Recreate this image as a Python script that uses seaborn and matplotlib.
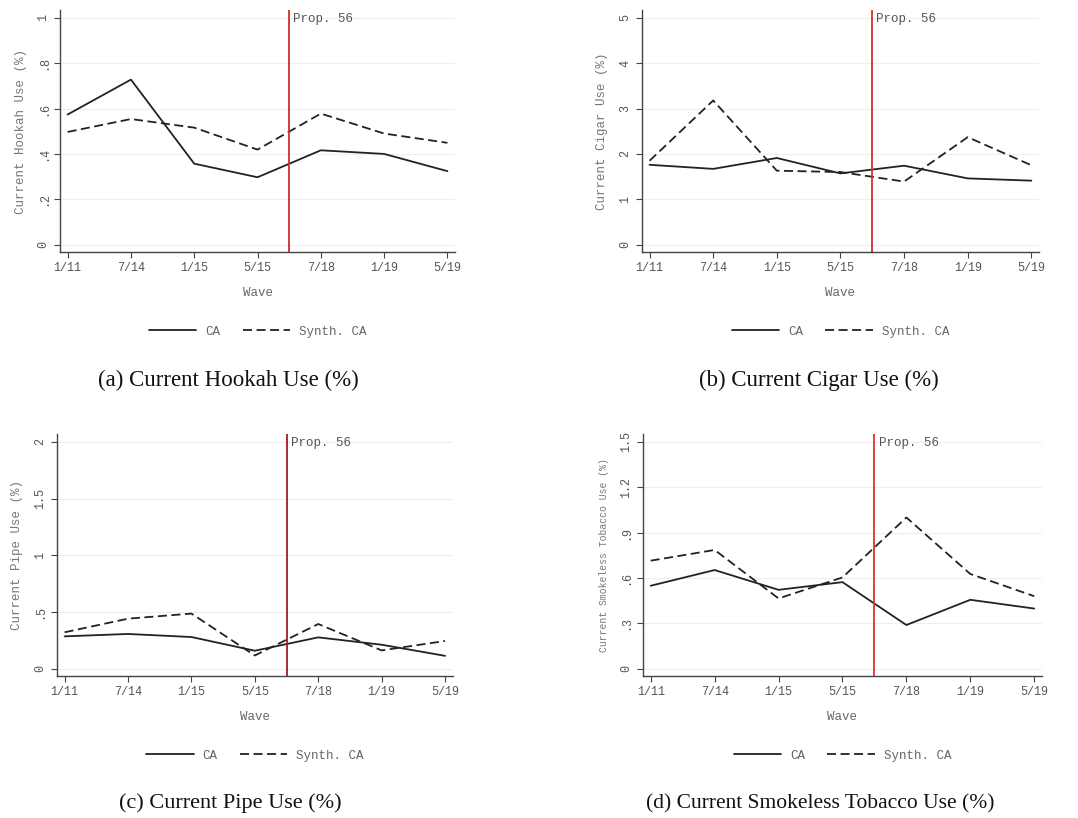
import numpy as np
import pandas as pd
import seaborn as sns
from matplotlib import pyplot as plt

# wave labels (equally spaced categories)
waves = ["1/11", "7/14", "1/15", "5/15", "7/18", "1/19", "5/19"]

# values, one pair of series per panel
hookah_ca = [0.574, 0.728, 0.357, 0.297, 0.416, 0.400, 0.324]
hookah_synth = [0.497, 0.554, 0.516, 0.419, 0.578, 0.490, 0.449]

cigar_ca = [1.76, 1.67, 1.91, 1.57, 1.74, 1.46, 1.41]
cigar_synth = [1.85, 3.18, 1.63, 1.60, 1.39, 2.37, 1.75]

pipe_ca = [0.284, 0.305, 0.278, 0.157, 0.275, 0.210, 0.112]
pipe_synth = [0.320, 0.440, 0.485, 0.115, 0.393, 0.160, 0.243]

smokeless_ca = [0.548, 0.652, 0.521, 0.572, 0.288, 0.455, 0.397]
smokeless_synth = [0.714, 0.785, 0.464, 0.603, 1.000, 0.626, 0.479]

hookah_ticks = [0, 0.2, 0.4, 0.6, 0.8, 1]
hookah_ticklabels = ["0", ".2", ".4", ".6", ".8", "1"]
cigar_ticks = [0, 1, 2, 3, 4, 5]
cigar_ticklabels = ["0", "1", "2", "3", "4", "5"]
pipe_ticks = [0, 0.5, 1, 1.5, 2]
pipe_ticklabels = ["0", ".5", "1", "1.5", "2"]
smokeless_ticks = [0, 0.3, 0.6, 0.9, 1.2, 1.5]
smokeless_ticklabels = ["0", ".3", ".6", ".9", "1.2", "1.5"]

policy_pos = 3.5  # Prop. 56 sits between 5/15 and 7/18

sns.set_theme(style="white")
plt.rcParams["font.family"] = ["Liberation Mono", "DejaVu Sans Mono"]

fig = plt.figure(figsize=(10.78, 8.18), dpi=100)

panels = [
    dict(ca=hookah_ca, synth=hookah_synth, ticks=hookah_ticks, labels=hookah_ticklabels,
         ylabel="Current Hookah Use (%)", ylsize=9, rect=[0.0557, 0.6919, 0.3664, 0.2958],
         caption="(a) Current Hookah Use (%)", cap=(0.212, 0.522), capsize=16.5, red="#c9302c"),
    dict(ca=cigar_ca, synth=cigar_synth, ticks=cigar_ticks, labels=cigar_ticklabels,
         ylabel="Current Cigar Use (%)", ylsize=9, rect=[0.5955, 0.6919, 0.3683, 0.2958],
         caption="(b) Current Cigar Use (%)", cap=(0.760, 0.522), capsize=16.5, red="#d9302c"),
    dict(ca=pipe_ca, synth=pipe_synth, ticks=pipe_ticks, labels=pipe_ticklabels,
         ylabel="Current Pipe Use (%)", ylsize=9, rect=[0.0529, 0.1736, 0.3670, 0.2958],
         caption="(c) Current Pipe Use (%)", cap=(0.214, 0.006), capsize=16, red="#a11d1d"),
    dict(ca=smokeless_ca, synth=smokeless_synth, ticks=smokeless_ticks, labels=smokeless_ticklabels,
         ylabel="Current Smokeless Tobacco Use (%)", ylsize=7, rect=[0.5965, 0.1736, 0.3700, 0.2958],
         caption="(d) Current Smokeless Tobacco Use (%)", cap=(0.761, 0.006), capsize=15.5, red="#e0322e"),
]

for p in panels:
    ax = fig.add_axes(p["rect"])
    df = pd.DataFrame({
        "x": list(range(len(waves))) * 2,
        "value": p["ca"] + p["synth"],
        "series": ["CA"] * len(waves) + ["Synth. CA"] * len(waves),
    })
    sns.lineplot(data=df, x="x", y="value", style="series", color="#222222",
                 dashes={"CA": "", "Synth. CA": (5, 2.5)}, linewidth=1.3, ax=ax)

    top = p["ticks"][-1]
    ax.set_ylim(-0.033 * top, 1.035 * top)
    ax.set_xlim(-0.12, 6.12)
    ax.set_yticks(p["ticks"])
    ax.set_yticklabels(p["labels"], rotation=90, va="center")
    ax.set_xticks(range(len(waves)))
    ax.set_xticklabels(waves)
    ax.tick_params(axis="both", direction="out", length=4, width=0.8, color="#444444",
                   labelsize=8.5, labelcolor="#555555", bottom=True, left=True)
    ax.yaxis.grid(True, color="#eeeeee", linewidth=0.8)
    ax.set_axisbelow(True)
    for side in ["top", "right"]:
        ax.spines[side].set_visible(False)
    for side in ["left", "bottom"]:
        ax.spines[side].set_color("#444444")
        ax.spines[side].set_linewidth(1.0)

    ax.axvline(policy_pos, color=p["red"], linewidth=1.3)
    ax.annotate("Prop. 56", xy=(policy_pos, top), xytext=(3, -1), textcoords="offset points",
                fontsize=9, color="#555555", va="center", ha="left")

    ax.set_xlabel("Wave", fontsize=9, color="#666666", labelpad=9)
    ax.set_ylabel(p["ylabel"], fontsize=p["ylsize"], color="#777777", labelpad=8)

    handles, labels = ax.get_legend_handles_labels()
    ax.legend(handles, labels, loc="center", bbox_to_anchor=(0.5, -0.33), ncol=2,
              frameon=False, fontsize=9, handlelength=3.8, handletextpad=0.7,
              columnspacing=1.8, labelcolor="#666666")

    fig.text(p["cap"][0], p["cap"][1], p["caption"],
             family=["Liberation Serif", "DejaVu Serif"], fontsize=p["capsize"],
             color="#111111", ha="center", va="bottom")

fig.savefig("out.png", dpi=100, facecolor="white")
